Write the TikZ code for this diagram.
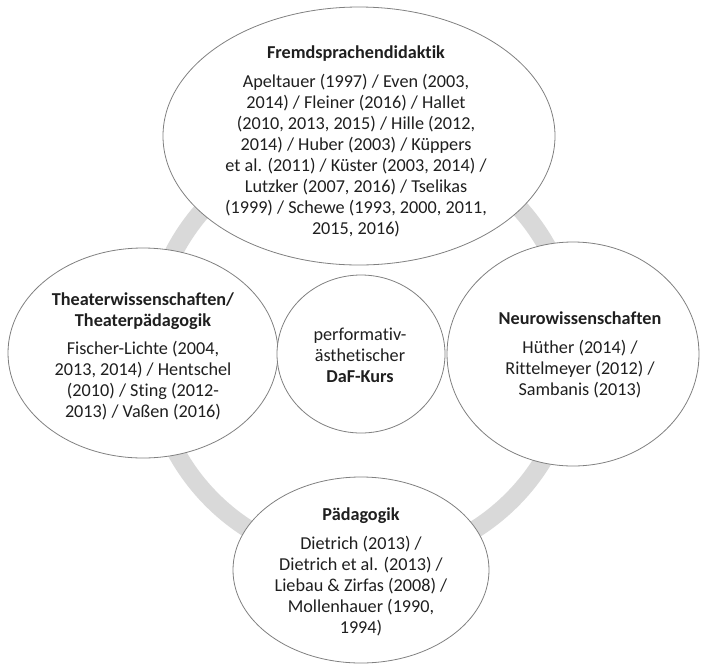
\documentclass[tikz,border=0pt]{standalone}
\usepackage{fontspec}
\setmainfont{Carlito}[Ligatures=NoCommon]
\usetikzlibrary{positioning}
\tikzset{bubble/.style={draw=black!50, fill=white, line width=0.8pt},
  ring/.style={draw=black!15, line width=18pt},
  txt/.style={align=center, text=black!88, inner sep=0pt,
    font=\fontsize{18.2}{21}\selectfont}}

\begin{document}
\begin{tikzpicture}[x=1pt,y=-1pt]
      \useasboundingbox (0,0) rectangle (702,665);
      \draw [ring] (362,350) circle [radius=212pt];

      \draw [bubble] (359,136) ellipse [x radius=196pt, y radius=129pt];
      \draw [bubble] (143,353) ellipse [x radius=135pt, y radius=105pt];
      \draw [bubble] (573,354) ellipse [x radius=126pt, y radius=112pt];
      \draw [bubble] (361,570) ellipse [x radius=128pt, y radius=93pt];
      \draw [bubble] (361,354) ellipse [x radius=84pt, y radius=79pt];

      \node [txt] (fremd) at (356,141) {\textbf{Fremdsprachendidaktik}\\[8pt]
        Apeltauer (1997) / Even (2003,\\ 2014) / Fleiner (2016) / Hallet\\
        (2010, 2013, 2015) / Hille (2012,\\ 2014) / Huber (2003) / Küppers\\
        et al. (2011) / Küster (2003, 2014) /\\ Lutzker (2007, 2016) / Tselikas\\
        (1999) / Schewe (1993, 2000, 2011,\\ 2015, 2016)};

      \node [txt] (theater) at (143,356) {\textbf{Theaterwissenschaften/}\\
        \textbf{Theaterpädagogik}\\[7pt]
        Fischer-Lichte (2004,\\ 2013, 2014) / Hentschel\\
        (2010) / Sting (2012-\\ 2013) / Vaßen (2016)};

      \node [txt] (kurs) at (360,355) {performativ-\\ ästhetischer\\
        \textbf{DaF-Kurs}};

      \node [txt] (neuro) at (580,355) {\textbf{Neurowissenschaften}\\[8pt]
        Hüther (2014) /\\ Rittelmeyer (2012) /\\ Sambanis (2013)};

      \node [txt] (paed) at (361,572) {\textbf{Pädagogik}\\[8pt]
        Dietrich (2013) /\\ Dietrich et al. (2013) /\\
        Liebau \& Zirfas (2008) /\\ Mollenhauer (1990,\\ 1994)};
\end{tikzpicture}
\end{document}
